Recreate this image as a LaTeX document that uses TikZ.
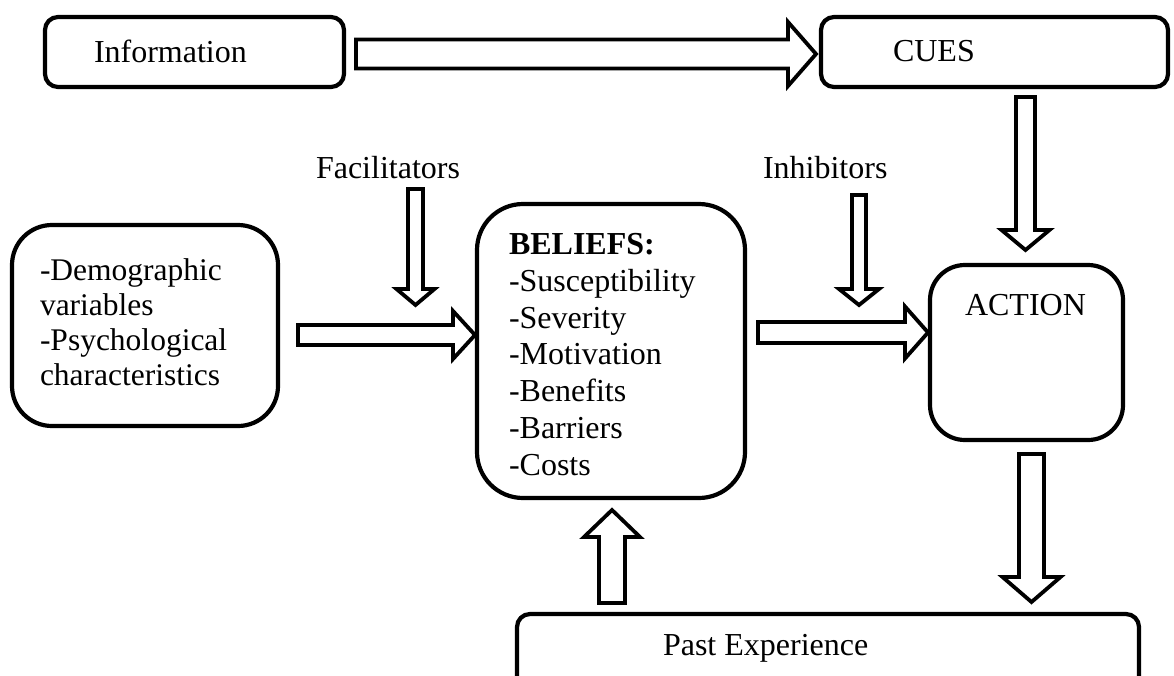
\documentclass[tikz,border=0pt]{standalone}
\usepackage{fontspec}
\setmainfont{Liberation Serif}
\usetikzlibrary{calc}
\tikzset{
  box/.style={draw, line width=4.2pt, fill=white, inner sep=0pt, outer sep=0pt},
  barrow/.style={draw, line width=3.8pt, fill=white, line join=miter},
  txt/.style={anchor=base west, inner sep=0pt, outer sep=0pt, font=\fontsize{32}{36}\selectfont},
}
% #1 from, #2 to (tip), #3 shaft half width, #4 head half width, #5 head length
\newcommand\blockarrow[5]{%
  \coordinate (hb) at ($(#2)!#5!(#1)$);
  \draw[barrow] ($(#1)!#3!90:(#2)$) -- ($(hb)!#3!90:(#2)$) -- ($(hb)!#4!90:(#2)$)
    -- (#2) -- ($(hb)!#4!-90:(#2)$) -- ($(hb)!#3!-90:(#2)$) -- ($(#1)!#3!-90:(#2)$) -- cycle;
}
\begin{document}
\begin{tikzpicture}[x=1pt, y=-1pt]
\clip (0,0) rectangle (1174,675);
\fill[white] (0,0) rectangle (1174,675);

% boxes
\node[box, minimum width=299pt, minimum height=70pt, rounded corners=13pt] (info) at (194.5,52) {};
\node[box, minimum width=347pt, minimum height=70pt, rounded corners=13pt] (cues) at (994.5,52) {};
\node[box, minimum width=266pt, minimum height=201pt, rounded corners=40pt] (demo) at (145,325.5) {};
\node[box, minimum width=268pt, minimum height=294pt, rounded corners=46pt] (beliefs) at (611,351) {};
\node[box, minimum width=193pt, minimum height=175pt, rounded corners=35pt] (action) at (1026.5,352.5) {};
\node[box, minimum width=622pt, minimum height=90pt, rounded corners=13pt] (past) at (828,659) {};

% texts (multi-line nodes: base anchor is the last line's baseline)
\node[txt] (tinfo) at (94,62) {Information};
\node[txt] (tcues) at (893,61) {CUES};
\node[txt] (tfac) at (316,178) {Facilitators};
\node[txt] (tinh) at (763,178) {Inhibitors};
\node[txt, align=left, font=\fontsize{31.5}{35}\selectfont] (tdemo) at (40,385)
  {-Demographic\\variables\\-Psychological\\characteristics};
\node[txt, align=left, font=\fontsize{32}{36.7}\selectfont] (tbel) at (509,475)
  {\textbf{BELIEFS:}\\-Susceptibility\\-Severity\\-Motivation\\-Benefits\\-Barriers\\-Costs};
\node[txt] (tact) at (965,315) {ACTION};
\node[txt] (tpast) at (663,655) {Past Experience};

% connector end points
\coordinate (a1s) at ($(info.east)+(12,2)$);
\coordinate (a1e) at ($(cues.west)+(-5,2)$);
\coordinate (a2s) at ($(cues.south)+(31,10)$);
\coordinate (a2e) at ($(action.north)+(-1,-15)$);
\coordinate (f1) at (415.5,189);
\coordinate (f2) at (415.5,305);
\coordinate (i1) at (859,195);
\coordinate (i2) at (859,305);
\coordinate (a5s) at ($(demo.east)+(20,9.5)$);
\coordinate (a5e) at ($(beliefs.west)+(-2,-16)$);
\coordinate (a6s) at ($(beliefs.east)+(13,-18.5)$);
\coordinate (a6e) at ($(action.west)+(-2,-20)$);
\coordinate (a7s) at ($(action.south)+(5,14)$);
\coordinate (a7e) at ($(action.south |- past.north)+(5,-12)$);
\coordinate (a8s) at ($(beliefs.south |- past.north)+(1,-11)$);
\coordinate (a8e) at ($(beliefs.south)+(1,12)$);

% block arrows
\blockarrow{a1s}{a1e}{14.5pt}{32pt}{28pt}
\blockarrow{a2s}{a2e}{9.5pt}{24pt}{20pt}
\blockarrow{f1}{f2}{7.5pt}{19pt}{16pt}
\blockarrow{i1}{i2}{7pt}{20pt}{16pt}
\blockarrow{a5s}{a5e}{10pt}{24pt}{22pt}
\blockarrow{a6s}{a6e}{10.5pt}{26pt}{23pt}
\blockarrow{a7s}{a7e}{12.5pt}{29pt}{25pt}
\blockarrow{a8s}{a8e}{13pt}{28pt}{27pt}
\end{tikzpicture}
\end{document}
